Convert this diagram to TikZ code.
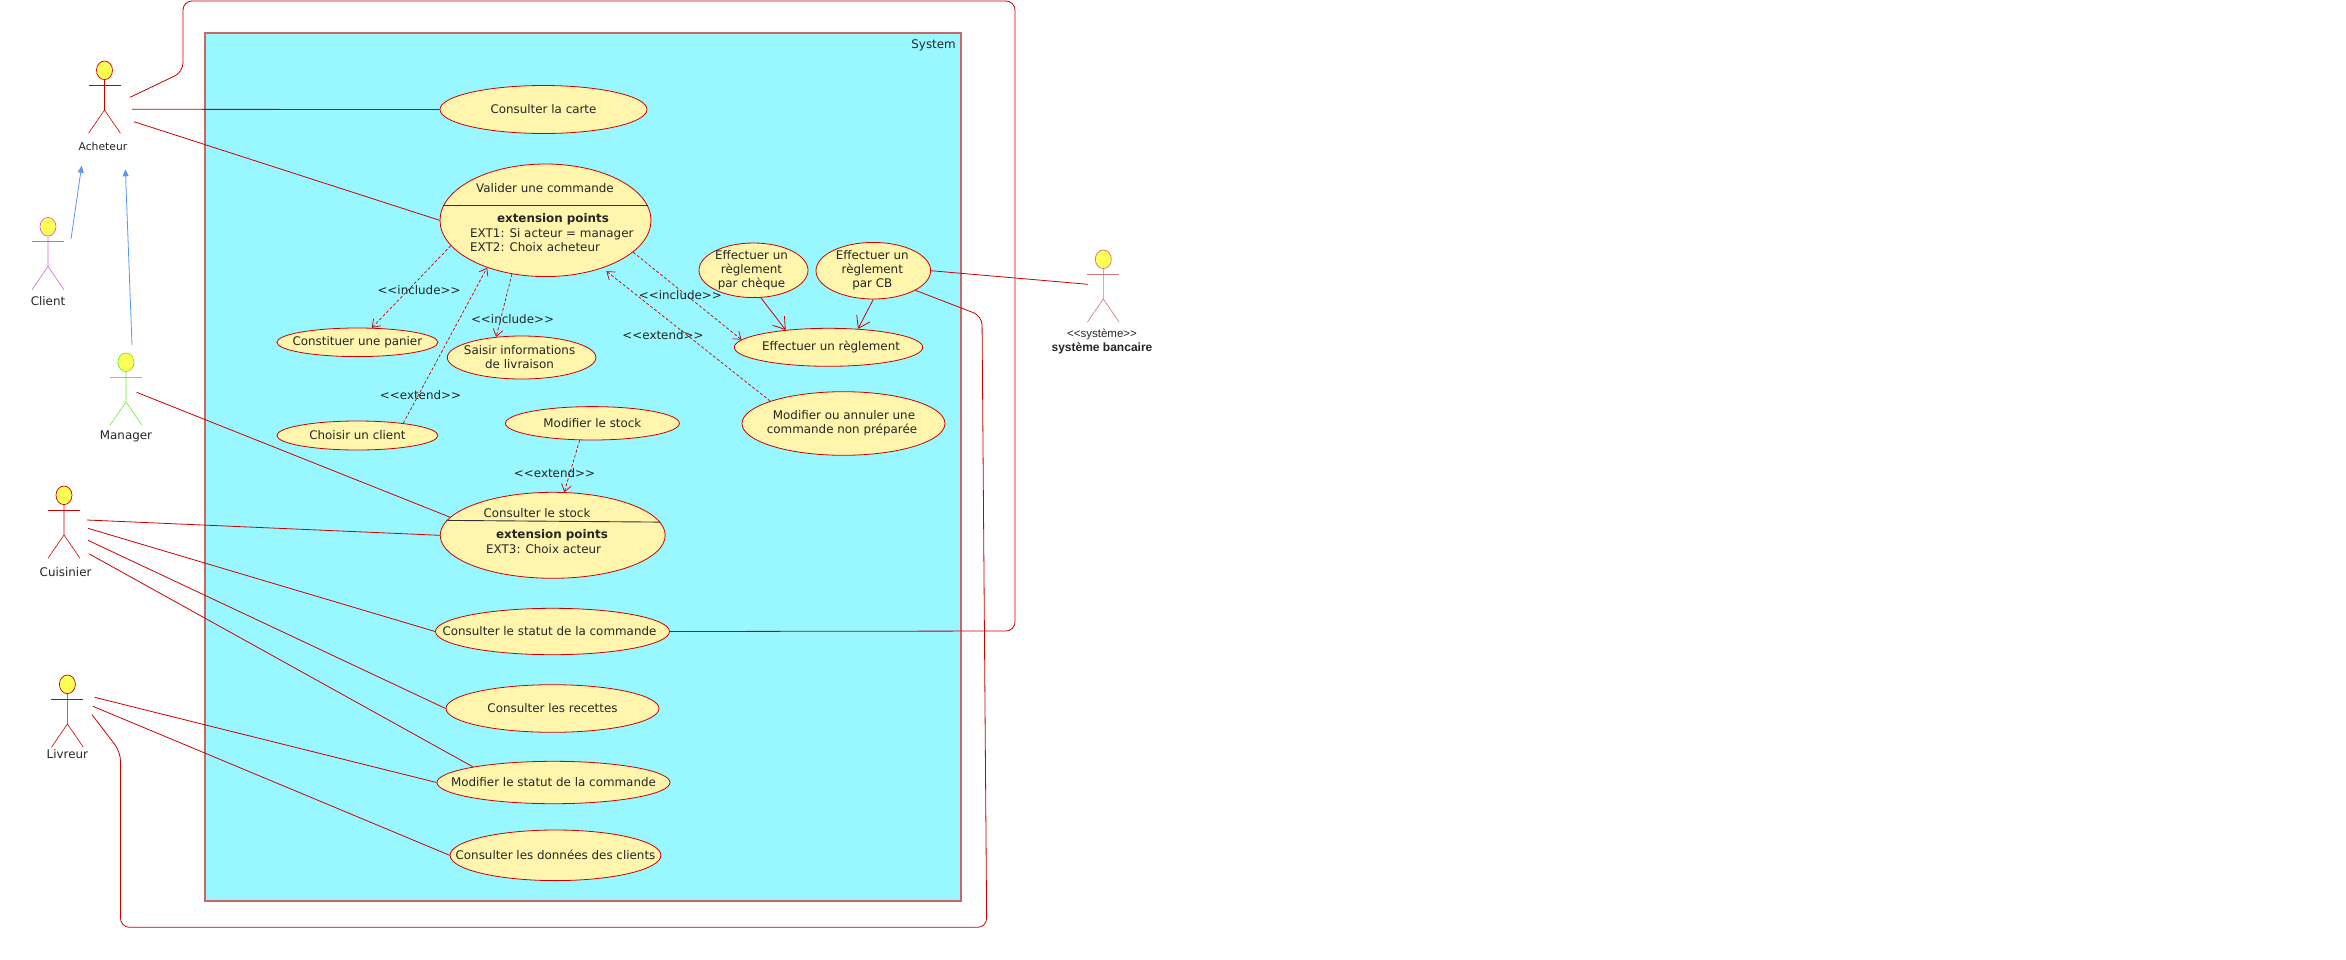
\documentclass[tikz,border=0pt]{standalone}
\usepackage{fontspec}
\setmainfont{DejaVu Sans}
\newfontfamily\bankfont{Liberation Sans}
\usetikzlibrary{arrows.meta,shapes.geometric}
\definecolor{ucred}{HTML}{CC0000}
\definecolor{ucyellow}{HTML}{FFF5AD}
\definecolor{syscyan}{HTML}{99F8FF}
\definecolor{sysborder}{HTML}{CC6666}
\definecolor{headyellow}{HTML}{FFFF55}
\definecolor{genblue}{HTML}{5599EE}
\definecolor{actorpink}{HTML}{CC66CC}
\definecolor{actorgreen}{HTML}{66EE33}
\definecolor{actorrose}{HTML}{CC7777}
\tikzset{
  pics/actor/.style={code={
    \node[ellipse, draw=#1, fill=headyellow, line width=0.7pt, minimum width=16, minimum height=18.6, inner sep=0pt] (-head) at (0,0) {};
    \draw[#1, line width=0.6pt] (-head) -- (0,39.7) -- (-16,63) (0,39.7) -- (16,63);
    \draw[#1, line width=0.6pt] (-16,15) -- (16,15);
  }}
}
\begin{document}
\begin{tikzpicture}[
  x=1pt, y=-1pt,
  every node/.style={font=\fontsize{11.9}{14}\selectfont, text=black!85},
  every label/.style={align=center, inner sep=0pt},
  usecase/.style={ellipse, draw=ucred, fill=ucyellow, inner sep=0pt, line width=0.8pt},
  stereo/.style={inner sep=0pt},
  assoc/.style={ucred, line width=0.8pt},
  route/.style={assoc, rounded corners=9pt},
  gen/.style={genblue, line width=0.8pt, -{Triangle[length=7pt,width=6pt]}},
  dep/.style={ucred, line width=0.7pt, dash pattern=on 3pt off 2pt, -{Straight Barb[length=7pt,width=10pt,line width=0.7pt]}},
  incl/.style={assoc, -{Straight Barb[length=11pt,width=15pt,line width=0.8pt]}}
]
\useasboundingbox (0,0) rectangle (2346,959);
\node[draw=sysborder, fill=syscyan, line width=2pt, minimum width=756, minimum height=868, inner sep=0pt] (system) at (583,467) {};
\node[inner sep=0pt, anchor=east] (systemname) at (956,45) {System};

% actors
\pic (acheteur) at (104.5,70.3) {actor=ucred};
\pic (client) at (48,226.7) {actor=actorpink};
\pic (manager) at (126,362.3) {actor=actorgreen};
\pic (cuisinier) at (64,495.3) {actor=ucred};
\pic (livreur) at (67.4,684.3) {actor=ucred};
\pic (banque) at (1103.3,259.3) {actor=actorrose};
\node[inner sep=0pt, font=\fontsize{10.8}{14}\selectfont] (acheteurname) at (103,146.7) {Acheteur};
\node[inner sep=0pt] (clientname) at (48,300.7) {Client};
\node[inner sep=0pt] (managername) at (126,436.7) {Manager};
\node[inner sep=0pt] (cuisiniername) at (65.6,571.7) {Cuisinier};
\node[inner sep=0pt] (livreurname) at (67.4,753.7) {Livreur};
\node[inner sep=0pt, font=\bankfont\fontsize{11.5}{14}\selectfont] (banquestereo) at (1102,334.7) {<{}<système>{}>};
\node[inner sep=0pt, font=\bankfont\bfseries\fontsize{12}{14}\selectfont] (banquename) at (1102,348.7) {système bancaire};

% use cases
\node[usecase, minimum width=207, minimum height=48, label={center:Consulter la carte}] (carte) at (543.5,109.5) {};
\node[usecase, minimum width=211, minimum height=112.6] (valider) at (545.5,220.3) {};
\node[usecase, minimum width=161, minimum height=28.6, label={center:Constituer une panier}] (panier) at (357.4,342.3) {};
\node[usecase, minimum width=148.6, minimum height=43, label={[xshift=-2pt]center:Saisir informations\\de livraison}] (saisir) at (521.6,357.5) {};
\node[usecase, minimum width=161, minimum height=29, label={center:Choisir un client}] (choisir) at (357.4,435.5) {};
\node[usecase, minimum width=174, minimum height=33.4, label={center:Modifier le stock}] (modifstock) at (592.4,423.3) {};
\node[usecase, minimum width=225, minimum height=86] (stock) at (552.7,535.3) {};
\node[usecase, minimum width=234, minimum height=46.4, label={[xshift=-3pt]center:Consulter le statut de la commande}] (statut) at (552.5,631.5) {};
\node[usecase, minimum width=213, minimum height=47.6, label={center:Consulter les recettes}] (recettes) at (552.5,708.5) {};
\node[usecase, minimum width=233, minimum height=42.4, label={center:Modifier le statut de la commande}] (modifstatut) at (553.5,782.5) {};
\node[usecase, minimum width=210.8, minimum height=50.6, label={center:Consulter les données des clients}] (donnees) at (555.5,855.3) {};
\node[usecase, minimum width=109, minimum height=54.6, label={[xshift=-2pt]center:Effectuer un\\règlement\\par chèque}] (cheque) at (753.5,270.3) {};
\node[usecase, minimum width=114.6, minimum height=56.6, label={[xshift=-1pt]center:Effectuer un\\règlement\\par CB}] (cb) at (873.3,270.7) {};
\node[usecase, minimum width=188.4, minimum height=38, label={[xshift=2.5pt]center:Effectuer un règlement}] (reglement) at (828.5,347.3) {};
\node[usecase, minimum width=203, minimum height=63.6, label={[xshift=-1.5pt]center:\hspace*{4pt}Modifier ou annuler une\\commande non préparée}] (annuler) at (843.5,423.5) {};

% compartments
\draw[black!80, line width=0.9pt] (valider.172) -- (valider.8);
\node[inner sep=0pt] (validertitle) at (545,187.7) {Valider une commande};
\node[inner sep=0pt, font=\bfseries\fontsize{11.9}{14}\selectfont] (validerpoints) at (553,219.7) {extension points};
\node[inner sep=0pt, anchor=west, align=left] (validerext) at (470,239.7) {EXT1: Si acteur = manager\\EXT2: Choix acheteur};
\draw[black!80, line width=0.9pt] (stock.172.5) -- (stock.7.5);
\node[inner sep=0pt] (stocktitle) at (537,512.7) {Consulter le stock};
\node[inner sep=0pt, font=\bfseries\fontsize{11.9}{14}\selectfont] (stockpoints) at (552,535.7) {extension points};
\node[inner sep=0pt, anchor=west] (stockext) at (486,548.7) {EXT3: Choix acteur};

% free ends beside the actors
\coordinate (acheteurA) at (130,97.3);
\coordinate (acheteurB) at (132,109.3);
\coordinate (acheteurC) at (134,121.7);
\coordinate (acheteurD) at (81.7,165.7);
\coordinate (acheteurE) at (125.4,169.3);
\coordinate (clientA) at (71,239);
\coordinate (managerA) at (132,345);
\coordinate (managerB) at (136.6,392.3);
\coordinate (cuisinierA) at (87,520);
\coordinate (cuisinierB) at (88,528.3);
\coordinate (cuisinierC) at (88,540.3);
\coordinate (cuisinierD) at (88.8,553.7);
\coordinate (livreurA) at (94.6,697.3);
\coordinate (livreurB) at (92.9,706.3);
\coordinate (livreurC) at (92,714.7);
\coordinate (banqueA) at (1088,284.3);

\draw[gen] (clientA) -- (acheteurD);
\draw[gen] (managerA) -- (acheteurE);
\draw[assoc] (acheteurB) -- (carte.west);
\draw[assoc] (acheteurC) -- (valider.west);
\draw[assoc] (managerB) -- (stock.170);
\draw[assoc] (cuisinierA) -- (stock.west);
\draw[assoc] (cuisinierB) -- (statut.west);
\draw[assoc] (cuisinierC) -- (recettes.west);
\draw[assoc] (cuisinierD) -- (modifstatut.169);
\draw[assoc] (livreurA) -- (modifstatut.west);
\draw[assoc] (livreurB) -- (donnees.west);
\draw[assoc] (cb.east) -- (banqueA);
\draw[route] (acheteurA) -- (183,72) -- (183,1) -- (1015,1) -- (1015,631) -- (statut.east);
\draw[route] (livreurC) -- (120.5,752) -- (120.5,927.3) -- (986.7,927.3) -- (982,316) -- (cb.-25);

\draw[dep] (valider.195) -- (panier.45);
\node[stereo] (includeA) at (419,290) {<{}<include>{}>};
\draw[dep] (valider.238) -- (saisir.141);
\node[stereo] (includeB) at (512.5,319) {<{}<include>{}>};
\draw[dep] (choisir.15) -- (valider.219);
\node[stereo] (extendA) at (420.5,395) {<{}<extend>{}>};
\draw[dep] (modifstock.233) -- (stock.75);
\node[stereo] (extendB) at (554.5,473) {<{}<extend>{}>};
\draw[dep] (valider.-20) -- (reglement.175);
\node[stereo] (includeC) at (680.4,295) {<{}<include>{}>};
\draw[dep, shorten >=5pt] (annuler.163) -- (valider.-40);
\node[stereo] (extendC) at (663,334.7) {<{}<extend>{}>};
\draw[incl] (cheque.-75) -- (reglement.158);
\draw[incl] (cb.south) -- (reglement.32);
\end{tikzpicture}
\end{document}
